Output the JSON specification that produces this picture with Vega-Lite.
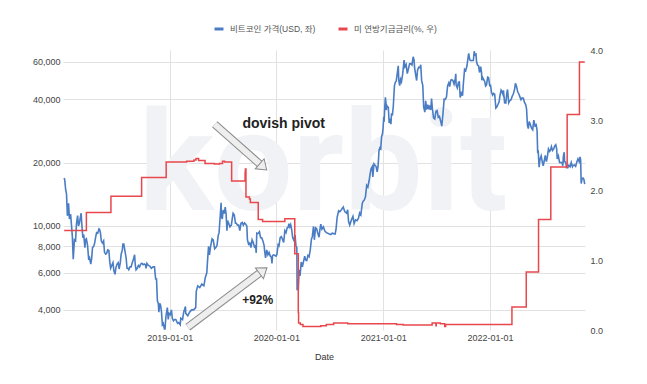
{
"$schema":"https://vega.github.io/schema/vega-lite/v6.json",
"width":522,"height":280,
"autosize":{"type":"none"},
"padding":{"left":63,"top":50,"right":62,"bottom":54},
"config":{"view":{"stroke":null},"font":"Liberation Sans, Noto Sans CJK KR, sans-serif",
"axis":{"labelFontSize":9,"labelColor":"#444","gridColor":"#e2e2e2","domain":false,"ticks":false,"titleFontSize":9,"titleFontWeight":"normal","titleColor":"#333"}},
"datasets":{
"btc":[
{"d":"2018-01-05","p":16900},{"d":"2018-01-07","p":16500},{"d":"2018-01-10","p":14900},{"d":"2018-01-13","p":14200},{"d":"2018-01-16","p":11200},{"d":"2018-01-18","p":11400},{"d":"2018-01-20","p":12800},{"d":"2018-01-23","p":10800},{"d":"2018-01-27","p":11400},{"d":"2018-01-30","p":10100},{"d":"2018-02-02","p":8900},{"d":"2018-02-05","p":6950},{"d":"2018-02-07","p":7700},{"d":"2018-02-09","p":8600},{"d":"2018-02-13","p":8500},{"d":"2018-02-16","p":10200},{"d":"2018-02-20","p":11200},{"d":"2018-02-23","p":10000},{"d":"2018-02-26","p":10300},{"d":"2018-03-01","p":10900},{"d":"2018-03-04","p":11500},{"d":"2018-03-07","p":9900},{"d":"2018-03-10","p":8800},{"d":"2018-03-13","p":9100},{"d":"2018-03-17","p":7900},{"d":"2018-03-19","p":8600},{"d":"2018-03-22","p":8700},{"d":"2018-03-26","p":8100},{"d":"2018-03-30","p":6900},{"d":"2018-04-02","p":7050},{"d":"2018-04-06","p":6600},{"d":"2018-04-09","p":7000},{"d":"2018-04-12","p":7900},{"d":"2018-04-16","p":8000},{"d":"2018-04-19","p":8250},{"d":"2018-04-23","p":8900},{"d":"2018-04-26","p":9300},{"d":"2018-04-30","p":9250},{"d":"2018-05-04","p":9700},{"d":"2018-05-06","p":9650},{"d":"2018-05-09","p":9300},{"d":"2018-05-12","p":8500},{"d":"2018-05-16","p":8300},{"d":"2018-05-20","p":8500},{"d":"2018-05-23","p":7500},{"d":"2018-05-27","p":7350},{"d":"2018-05-30","p":7400},{"d":"2018-06-03","p":7700},{"d":"2018-06-07","p":7650},{"d":"2018-06-10","p":6750},{"d":"2018-06-13","p":6300},{"d":"2018-06-17","p":6500},{"d":"2018-06-21","p":6700},{"d":"2018-06-24","p":6150},{"d":"2018-06-28","p":5900},{"d":"2018-07-01","p":6350},{"d":"2018-07-05","p":6600},{"d":"2018-07-09","p":6700},{"d":"2018-07-12","p":6250},{"d":"2018-07-16","p":6700},{"d":"2018-07-19","p":7350},{"d":"2018-07-23","p":7700},{"d":"2018-07-25","p":8200},{"d":"2018-07-28","p":8200},{"d":"2018-08-01","p":7600},{"d":"2018-08-05","p":7050},{"d":"2018-08-08","p":6300},{"d":"2018-08-11","p":6300},{"d":"2018-08-14","p":6200},{"d":"2018-08-18","p":6400},{"d":"2018-08-22","p":6400},{"d":"2018-08-26","p":6700},{"d":"2018-08-30","p":6950},{"d":"2018-09-03","p":7300},{"d":"2018-09-05","p":6600},{"d":"2018-09-08","p":6200},{"d":"2018-09-12","p":6300},{"d":"2018-09-16","p":6500},{"d":"2018-09-20","p":6400},{"d":"2018-09-24","p":6600},{"d":"2018-09-28","p":6650},{"d":"2018-10-02","p":6550},{"d":"2018-10-06","p":6600},{"d":"2018-10-10","p":6550},{"d":"2018-10-12","p":6300},{"d":"2018-10-15","p":6650},{"d":"2018-10-20","p":6500},{"d":"2018-10-25","p":6450},{"d":"2018-10-30","p":6300},{"d":"2018-11-05","p":6400},{"d":"2018-11-10","p":6400},{"d":"2018-11-14","p":5600},{"d":"2018-11-17","p":5600},{"d":"2018-11-20","p":4400},{"d":"2018-11-23","p":4300},{"d":"2018-11-25","p":3900},{"d":"2018-11-28","p":4300},{"d":"2018-12-01","p":4200},{"d":"2018-12-04","p":3900},{"d":"2018-12-07","p":3400},{"d":"2018-12-10","p":3450},{"d":"2018-12-14","p":3250},{"d":"2018-12-16","p":3250},{"d":"2018-12-19","p":3700},{"d":"2018-12-22","p":3950},{"d":"2018-12-24","p":4100},{"d":"2018-12-27","p":3600},{"d":"2018-12-30","p":3850},
{"d":"2019-01-03","p":3800},{"d":"2019-01-07","p":4000},{"d":"2019-01-10","p":3650},{"d":"2019-01-14","p":3550},{"d":"2019-01-18","p":3600},{"d":"2019-01-22","p":3600},{"d":"2019-01-28","p":3450},{"d":"2019-02-01","p":3480},{"d":"2019-02-06","p":3400},{"d":"2019-02-08","p":3650},{"d":"2019-02-14","p":3600},{"d":"2019-02-18","p":3900},{"d":"2019-02-24","p":4150},{"d":"2019-02-25","p":3850},{"d":"2019-03-04","p":3750},{"d":"2019-03-10","p":3900},{"d":"2019-03-17","p":4000},{"d":"2019-03-24","p":4000},{"d":"2019-03-31","p":4100},{"d":"2019-04-02","p":4900},{"d":"2019-04-07","p":5200},{"d":"2019-04-14","p":5100},{"d":"2019-04-21","p":5300},{"d":"2019-04-28","p":5200},{"d":"2019-05-03","p":5700},{"d":"2019-05-08","p":6000},{"d":"2019-05-11","p":7000},{"d":"2019-05-14","p":8000},{"d":"2019-05-17","p":7300},{"d":"2019-05-21","p":8000},{"d":"2019-05-26","p":8700},{"d":"2019-05-30","p":8600},{"d":"2019-06-04","p":7800},{"d":"2019-06-08","p":7900},{"d":"2019-06-12","p":8100},{"d":"2019-06-16","p":9000},{"d":"2019-06-19","p":9300},{"d":"2019-06-22","p":10700},{"d":"2019-06-26","p":12900},{"d":"2019-06-27","p":11200},{"d":"2019-06-30","p":10800},{"d":"2019-07-03","p":11900},{"d":"2019-07-07","p":11450},{"d":"2019-07-10","p":12300},{"d":"2019-07-13","p":11400},{"d":"2019-07-16","p":9500},{"d":"2019-07-18","p":10600},{"d":"2019-07-22","p":10300},{"d":"2019-07-26","p":9900},{"d":"2019-07-31","p":10100},{"d":"2019-08-03","p":10800},{"d":"2019-08-06","p":11500},{"d":"2019-08-10","p":11300},{"d":"2019-08-14","p":10300},{"d":"2019-08-17","p":10300},{"d":"2019-08-21","p":10100},{"d":"2019-08-25","p":10100},{"d":"2019-08-29","p":9500},{"d":"2019-09-02","p":10300},{"d":"2019-09-06","p":10400},{"d":"2019-09-10","p":10100},{"d":"2019-09-14","p":10350},{"d":"2019-09-18","p":10200},{"d":"2019-09-22","p":10000},{"d":"2019-09-24","p":8600},{"d":"2019-09-28","p":8200},{"d":"2019-10-02","p":8300},{"d":"2019-10-06","p":7900},{"d":"2019-10-10","p":8600},{"d":"2019-10-14","p":8350},{"d":"2019-10-18","p":7950},{"d":"2019-10-22","p":8050},{"d":"2019-10-24","p":7450},{"d":"2019-10-26","p":9250},{"d":"2019-10-30","p":9200},{"d":"2019-11-04","p":9400},{"d":"2019-11-08","p":8800},{"d":"2019-11-12","p":8800},{"d":"2019-11-16","p":8500},{"d":"2019-11-20","p":8100},{"d":"2019-11-22","p":7600},{"d":"2019-11-25","p":7050},{"d":"2019-11-29","p":7700},{"d":"2019-12-03","p":7300},{"d":"2019-12-07","p":7500},{"d":"2019-12-11","p":7200},{"d":"2019-12-15","p":7100},{"d":"2019-12-17","p":6650},{"d":"2019-12-19","p":7250},{"d":"2019-12-23","p":7300},{"d":"2019-12-27","p":7250},{"d":"2019-12-31","p":7200},
{"d":"2020-01-03","p":7350},{"d":"2020-01-07","p":8150},{"d":"2020-01-10","p":8050},{"d":"2020-01-14","p":8800},{"d":"2020-01-18","p":8900},{"d":"2020-01-22","p":8650},{"d":"2020-01-26","p":8350},{"d":"2020-01-30","p":9500},{"d":"2020-02-03","p":9300},{"d":"2020-02-07","p":9800},{"d":"2020-02-10","p":9850},{"d":"2020-02-13","p":10250},{"d":"2020-02-16","p":9900},{"d":"2020-02-19","p":10150},{"d":"2020-02-22","p":9700},{"d":"2020-02-26","p":8800},{"d":"2020-03-01","p":8550},{"d":"2020-03-05","p":9050},{"d":"2020-03-08","p":8050},{"d":"2020-03-11","p":7900},{"d":"2020-03-12","p":4950},{"d":"2020-03-13","p":5550},{"d":"2020-03-16","p":5000},{"d":"2020-03-19","p":6200},{"d":"2020-03-22","p":5800},{"d":"2020-03-26","p":6750},{"d":"2020-03-30","p":6400},{"d":"2020-04-03","p":6800},{"d":"2020-04-07","p":7200},{"d":"2020-04-10","p":6900},{"d":"2020-04-14","p":6850},{"d":"2020-04-18","p":7250},{"d":"2020-04-22","p":7150},{"d":"2020-04-26","p":7700},{"d":"2020-04-30","p":8650},{"d":"2020-05-03","p":8900},{"d":"2020-05-07","p":9950},{"d":"2020-05-10","p":8600},{"d":"2020-05-14","p":9800},{"d":"2020-05-18","p":9700},{"d":"2020-05-22","p":9200},{"d":"2020-05-26","p":8850},{"d":"2020-05-29","p":9600},{"d":"2020-06-01","p":10200},{"d":"2020-06-05","p":9650},{"d":"2020-06-10","p":9900},{"d":"2020-06-15","p":9450},{"d":"2020-06-20","p":9300},{"d":"2020-06-25","p":9250},{"d":"2020-06-30","p":9150},{"d":"2020-07-05","p":9100},{"d":"2020-07-10","p":9250},{"d":"2020-07-15","p":9200},{"d":"2020-07-20","p":9160},{"d":"2020-07-23","p":9600},{"d":"2020-07-27","p":11000},{"d":"2020-08-01","p":11800},{"d":"2020-08-05","p":11700},{"d":"2020-08-10","p":11900},{"d":"2020-08-17","p":12300},{"d":"2020-08-22","p":11700},{"d":"2020-08-28","p":11500},{"d":"2020-09-01","p":11950},{"d":"2020-09-04","p":10500},{"d":"2020-09-08","p":10100},{"d":"2020-09-14","p":10700},{"d":"2020-09-19","p":11100},{"d":"2020-09-23","p":10250},{"d":"2020-09-28","p":10700},{"d":"2020-10-03","p":10600},{"d":"2020-10-08","p":10900},{"d":"2020-10-12","p":11550},{"d":"2020-10-16","p":11300},{"d":"2020-10-21","p":12800},{"d":"2020-10-24","p":13100},{"d":"2020-10-28","p":13300},{"d":"2020-11-01","p":13800},{"d":"2020-11-05","p":15600},{"d":"2020-11-09","p":15300},{"d":"2020-11-13","p":16300},{"d":"2020-11-17","p":17700},{"d":"2020-11-20","p":18700},{"d":"2020-11-24","p":19150},{"d":"2020-11-26","p":17100},{"d":"2020-11-30","p":19700},{"d":"2020-12-03","p":19450},{"d":"2020-12-07","p":19200},{"d":"2020-12-11","p":18050},{"d":"2020-12-14","p":19250},{"d":"2020-12-16","p":21300},{"d":"2020-12-17","p":22800},{"d":"2020-12-20","p":23500},{"d":"2020-12-23","p":23250},{"d":"2020-12-26","p":26500},{"d":"2020-12-29","p":27400},{"d":"2020-12-31","p":29000},
{"d":"2021-01-02","p":32200},{"d":"2021-01-04","p":31900},{"d":"2021-01-06","p":36800},{"d":"2021-01-08","p":40800},{"d":"2021-01-10","p":38400},{"d":"2021-01-11","p":35500},{"d":"2021-01-13","p":37300},{"d":"2021-01-15","p":36800},{"d":"2021-01-18","p":36600},{"d":"2021-01-21","p":30800},{"d":"2021-01-24","p":32300},{"d":"2021-01-27","p":30400},{"d":"2021-01-29","p":34300},{"d":"2021-02-01","p":33500},{"d":"2021-02-04","p":36900},{"d":"2021-02-08","p":46200},{"d":"2021-02-11","p":48000},{"d":"2021-02-14","p":48700},{"d":"2021-02-17","p":52100},{"d":"2021-02-20","p":56000},{"d":"2021-02-21","p":57500},{"d":"2021-02-23","p":48900},{"d":"2021-02-26","p":46300},{"d":"2021-03-01","p":49600},{"d":"2021-03-04","p":48400},{"d":"2021-03-08","p":52400},{"d":"2021-03-11","p":57300},{"d":"2021-03-13","p":61200},{"d":"2021-03-16","p":56900},{"d":"2021-03-20","p":58300},{"d":"2021-03-24","p":52800},{"d":"2021-03-28","p":55800},{"d":"2021-04-01","p":58800},{"d":"2021-04-05","p":58900},{"d":"2021-04-09","p":58100},{"d":"2021-04-13","p":63500},{"d":"2021-04-16","p":61400},{"d":"2021-04-18","p":56200},{"d":"2021-04-22","p":51700},{"d":"2021-04-25","p":49000},{"d":"2021-04-28","p":54800},{"d":"2021-05-02","p":56600},{"d":"2021-05-06","p":56400},{"d":"2021-05-09","p":58200},{"d":"2021-05-12","p":49200},{"d":"2021-05-16","p":46400},{"d":"2021-05-19","p":36700},{"d":"2021-05-23","p":34700},{"d":"2021-05-26","p":39300},{"d":"2021-05-29","p":35700},{"d":"2021-06-02","p":37600},{"d":"2021-06-06","p":35800},{"d":"2021-06-09","p":37300},{"d":"2021-06-12","p":35500},{"d":"2021-06-15","p":40200},{"d":"2021-06-18","p":35800},{"d":"2021-06-22","p":32500},{"d":"2021-06-26","p":32200},{"d":"2021-06-30","p":35000},{"d":"2021-07-04","p":35300},{"d":"2021-07-08","p":32800},{"d":"2021-07-12","p":33100},{"d":"2021-07-16","p":31500},{"d":"2021-07-20","p":29800},{"d":"2021-07-24","p":34000},{"d":"2021-07-28","p":40000},{"d":"2021-08-01","p":39900},{"d":"2021-08-05","p":40900},{"d":"2021-08-09","p":46300},{"d":"2021-08-13","p":47800},{"d":"2021-08-16","p":45900},{"d":"2021-08-20","p":49300},{"d":"2021-08-23","p":49500},{"d":"2021-08-27","p":49000},{"d":"2021-08-31","p":47100},{"d":"2021-09-04","p":50000},{"d":"2021-09-06","p":52700},{"d":"2021-09-07","p":46800},{"d":"2021-09-11","p":45200},{"d":"2021-09-15","p":48100},{"d":"2021-09-18","p":48300},{"d":"2021-09-21","p":40700},{"d":"2021-09-25","p":42700},{"d":"2021-09-29","p":41500},{"d":"2021-10-02","p":47700},{"d":"2021-10-06","p":55400},{"d":"2021-10-10","p":54700},{"d":"2021-10-14","p":57400},{"d":"2021-10-17","p":61500},{"d":"2021-10-20","p":65900},{"d":"2021-10-24","p":61300},{"d":"2021-10-28","p":60900},{"d":"2021-11-01","p":61000},{"d":"2021-11-05","p":61000},{"d":"2021-11-08","p":67500},{"d":"2021-11-10","p":64900},{"d":"2021-11-14","p":65400},{"d":"2021-11-16","p":60100},{"d":"2021-11-19","p":58100},{"d":"2021-11-23","p":57500},{"d":"2021-11-26","p":53500},{"d":"2021-11-30","p":57000},{"d":"2021-12-03","p":53600},{"d":"2021-12-04","p":49200},{"d":"2021-12-07","p":50600},{"d":"2021-12-11","p":49400},{"d":"2021-12-14","p":48400},{"d":"2021-12-17","p":46200},{"d":"2021-12-20","p":46700},{"d":"2021-12-24","p":50800},{"d":"2021-12-27","p":50600},{"d":"2021-12-31","p":46300},
{"d":"2022-01-03","p":46400},{"d":"2022-01-06","p":43100},{"d":"2022-01-10","p":41800},{"d":"2022-01-13","p":42600},{"d":"2022-01-17","p":42200},{"d":"2022-01-21","p":36300},{"d":"2022-01-24","p":36700},{"d":"2022-01-28","p":37700},{"d":"2022-02-01","p":38700},{"d":"2022-02-04","p":41500},{"d":"2022-02-08","p":44100},{"d":"2022-02-10","p":43600},{"d":"2022-02-14","p":42200},{"d":"2022-02-16","p":44000},{"d":"2022-02-20","p":38400},{"d":"2022-02-24","p":38300},{"d":"2022-02-28","p":43200},{"d":"2022-03-02","p":44400},{"d":"2022-03-06","p":38400},{"d":"2022-03-10","p":39400},{"d":"2022-03-14","p":39700},{"d":"2022-03-18","p":41300},{"d":"2022-03-22","p":42400},{"d":"2022-03-26","p":44500},{"d":"2022-03-29","p":47500},{"d":"2022-04-02","p":45800},{"d":"2022-04-06","p":43200},{"d":"2022-04-10","p":42200},{"d":"2022-04-13","p":41100},{"d":"2022-04-17","p":39700},{"d":"2022-04-21","p":40500},{"d":"2022-04-25","p":40400},{"d":"2022-04-29","p":38600},{"d":"2022-05-03","p":37700},{"d":"2022-05-06","p":36000},{"d":"2022-05-09","p":30100},{"d":"2022-05-12","p":29000},{"d":"2022-05-15","p":31300},{"d":"2022-05-19","p":30300},{"d":"2022-05-23","p":29100},{"d":"2022-05-27","p":28600},{"d":"2022-05-31","p":31800},{"d":"2022-06-04","p":29900},{"d":"2022-06-08","p":30200},{"d":"2022-06-11","p":28400},{"d":"2022-06-13","p":22500},{"d":"2022-06-15","p":22600},{"d":"2022-06-18","p":19000},{"d":"2022-06-21","p":20700},{"d":"2022-06-25","p":21500},{"d":"2022-06-29","p":20100},{"d":"2022-07-02","p":19300},{"d":"2022-07-06","p":20500},{"d":"2022-07-09","p":21600},{"d":"2022-07-13","p":20200},{"d":"2022-07-16","p":21200},{"d":"2022-07-20","p":23200},{"d":"2022-07-24","p":22600},{"d":"2022-07-27","p":22900},{"d":"2022-07-30","p":23800},{"d":"2022-08-03","p":22800},{"d":"2022-08-07","p":23200},{"d":"2022-08-10","p":23900},{"d":"2022-08-14","p":24300},{"d":"2022-08-17","p":23300},{"d":"2022-08-19","p":20800},{"d":"2022-08-23","p":21500},{"d":"2022-08-27","p":20000},{"d":"2022-08-31","p":20000},{"d":"2022-09-04","p":20000},{"d":"2022-09-07","p":19300},{"d":"2022-09-09","p":21400},{"d":"2022-09-12","p":22400},{"d":"2022-09-13","p":20200},{"d":"2022-09-17","p":20100},{"d":"2022-09-20","p":18900},{"d":"2022-09-24","p":18900},{"d":"2022-09-28","p":19400},{"d":"2022-10-02","p":19100},{"d":"2022-10-06","p":20000},{"d":"2022-10-10","p":19100},{"d":"2022-10-13","p":19400},{"d":"2022-10-17","p":19500},{"d":"2022-10-21","p":19200},{"d":"2022-10-25","p":20100},{"d":"2022-10-29","p":20800},{"d":"2022-11-02","p":20200},{"d":"2022-11-05","p":21300},{"d":"2022-11-07","p":20600},{"d":"2022-11-09","p":15900},{"d":"2022-11-12","p":16800},{"d":"2022-11-15","p":16900},{"d":"2022-11-18","p":16700},{"d":"2022-11-21","p":15800}
],
"ffr":[
{"d":"2018-01-05","r":1.42},{"d":"2018-03-22","r":1.68},{"d":"2018-06-14","r":1.91},{"d":"2018-09-27","r":2.18},{"d":"2018-12-20","r":2.40},{"d":"2019-02-28","r":2.41},{"d":"2019-03-25","r":2.43},{"d":"2019-04-01","r":2.45},{"d":"2019-04-10","r":2.42},{"d":"2019-05-02","r":2.38},{"d":"2019-06-03","r":2.37},{"d":"2019-06-20","r":2.38},{"d":"2019-07-01","r":2.41},{"d":"2019-07-08","r":2.40},{"d":"2019-08-01","r":2.13},{"d":"2019-09-16","r":2.25},{"d":"2019-09-17","r":2.30},{"d":"2019-09-19","r":1.90},{"d":"2019-10-01","r":1.87},{"d":"2019-10-04","r":1.82},{"d":"2019-10-31","r":1.58},{"d":"2019-11-15","r":1.55},{"d":"2020-01-30","r":1.59},{"d":"2020-03-04","r":1.09},{"d":"2020-03-16","r":0.25},{"d":"2020-03-17","r":0.10},{"d":"2020-03-23","r":0.08},{"d":"2020-04-01","r":0.05},{"d":"2020-06-01","r":0.06},{"d":"2020-06-20","r":0.08},{"d":"2020-07-15","r":0.10},{"d":"2020-09-01","r":0.09},{"d":"2021-01-01","r":0.09},{"d":"2021-02-15","r":0.08},{"d":"2021-03-10","r":0.07},{"d":"2021-06-17","r":0.10},{"d":"2021-06-30","r":0.06},{"d":"2021-07-01","r":0.10},{"d":"2021-07-15","r":0.09},{"d":"2021-07-30","r":0.05},{"d":"2021-08-02","r":0.08},{"d":"2022-03-17","r":0.33},{"d":"2022-05-05","r":0.83},{"d":"2022-06-16","r":1.58},{"d":"2022-07-28","r":2.33},{"d":"2022-09-22","r":3.08},{"d":"2022-11-03","r":3.83},{"d":"2022-11-21","r":3.83}
]
},
"layer":[
{"layer":[
{"data":{"values":[{"d":"2020-06-09","p":11910,"t":"korbit"}]},
"mark":{"type":"text","font":"Roboto","fontWeight":"bold","fontSize":140,"fill":"#f0f2f6","align":"center","baseline":"alphabetic"},
"encoding":{"x":{"field":"d","type":"temporal"},"y":{"field":"p","type":"quantitative"},"text":{"field":"t"}}},
{"data":{"name":"btc"},
"mark":{"type":"line","strokeWidth":1.6,"interpolate":"linear"},
"encoding":{
"x":{"field":"d","type":"temporal","scale":{"type":"utc","nice":false,"domain":[{"year":2018,"month":1,"date":1,"utc":true},{"year":2022,"month":11,"date":22,"utc":true}]},
"axis":{"values":[{"year":2019,"month":1,"date":1,"utc":true},{"year":2020,"month":1,"date":1,"utc":true},{"year":2021,"month":1,"date":1,"utc":true},{"year":2022,"month":1,"date":1,"utc":true}],"format":"%Y-%m-%d","title":"Date","labelPadding":3,"titlePadding":10,"grid":true}},
"y":{"field":"p","type":"quantitative","scale":{"type":"log","nice":false,"domain":[3210,68400]},
"axis":{"orient":"left","values":[4000,6000,8000,10000,20000,40000,60000],"format":",","title":null,"labelPadding":3,"grid":true}},
"color":{"datum":"비트코인 가격(USD, 좌)","type":"nominal","scale":{"domain":["비트코인 가격(USD, 좌)","미 연방기금금리(%, 우)"],"range":["#4a7dc4","#e8474c"]},
"legend":{"orient":"none","legendX":150,"legendY":-27,"direction":"horizontal","title":null,"symbolType":"stroke","symbolStrokeWidth":3,"symbolSize":81,"labelFontSize":8.5,"labelColor":"#555","labelOffset":5,"columnPadding":16,"padding":0}}}}
]},
{"layer":[
{"data":{"name":"ffr"},
"mark":{"type":"line","strokeWidth":1.5,"interpolate":"step-after"},
"encoding":{"x":{"field":"d","type":"temporal"},
"y":{"field":"r","type":"quantitative","scale":{"domain":[0,4],"nice":false},
"axis":{"orient":"right","values":[0,1,2,3,4],"format":".1f","title":null,"labelPadding":5,"grid":false}},
"color":{"datum":"미 연방기금금리(%, 우)","type":"nominal"}}},
{"data":{"values":[{"d":"2019-06-04","r":2.94,"d2":"2019-11-11","r2":2.35},{"d":"2019-03-04","r":0.04,"d2":"2019-11-10","r2":0.83}]},
"mark":{"type":"rule","stroke":"#8a8a8a","strokeWidth":8,"strokeCap":"butt"},
"encoding":{"x":{"field":"d","type":"temporal"},"y":{"field":"r","type":"quantitative"},"x2":{"field":"d2"},"y2":{"field":"r2"}}},
{"data":{"values":[{"d":"2019-06-04","r":2.94,"d2":"2019-11-11","r2":2.35},{"d":"2019-03-04","r":0.04,"d2":"2019-11-10","r2":0.83}]},
"mark":{"type":"rule","stroke":"#eeeeee","strokeWidth":6,"strokeCap":"butt"},
"encoding":{"x":{"field":"d","type":"temporal"},"y":{"field":"r","type":"quantitative"},"x2":{"field":"d2"},"y2":{"field":"r2"}}},
{"data":{"values":[{"d":"2019-11-17","r":2.33}]},
"mark":{"type":"point","shape":"M-1,0.7L0,-0.7L1,0.7Z","filled":true,"fill":"#eeeeee","stroke":"#8a8a8a","strokeWidth":1,"size":180,"angle":131.5,"opacity":1},
"encoding":{"x":{"field":"d","type":"temporal"},"y":{"field":"r","type":"quantitative"}}},
{"data":{"values":[{"d":"2019-11-17","r":0.85}]},
"mark":{"type":"point","shape":"M-1,0.7L0,-0.7L1,0.7Z","filled":true,"fill":"#eeeeee","stroke":"#8a8a8a","strokeWidth":1,"size":180,"angle":53.3,"opacity":1},
"encoding":{"x":{"field":"d","type":"temporal"},"y":{"field":"r","type":"quantitative"}}},
{"data":{"values":[{"d":"2020-01-26","r":2.94,"t":"dovish pivot"}]},
"mark":{"type":"text","fontSize":14,"fontWeight":"bold","fill":"#222","align":"center","baseline":"middle"},
"encoding":{"x":{"field":"d","type":"temporal"},"y":{"field":"r","type":"quantitative"},"text":{"field":"t"}}},
{"data":{"values":[{"d":"2019-10-29","r":0.43,"t":"+92%"}]},
"mark":{"type":"text","fontSize":12,"fontWeight":"bold","fill":"#222","align":"center","baseline":"middle"},
"encoding":{"x":{"field":"d","type":"temporal"},"y":{"field":"r","type":"quantitative"},"text":{"field":"t"}}}
]}
],
"resolve":{"scale":{"y":"independent"}}
}
